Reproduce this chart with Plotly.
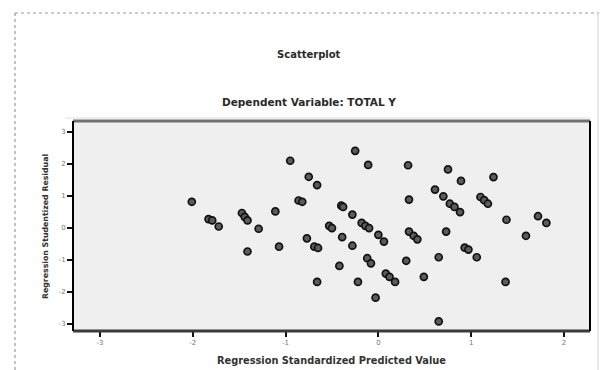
import plotly.graph_objects as go

pred = [-2.01, -1.83, -1.79, -1.72, -1.47, -1.44, -1.41, -1.29, -1.41, -1.11,
        -1.07, -0.95, -0.86, -0.82, -0.75, -0.66, -0.77, -0.69, -0.65, -0.66,
        -0.53, -0.50, -0.40, -0.38, -0.28, -0.39, -0.28, -0.42, -0.22, -0.03,
        -0.18, -0.14, -0.10, 0.00, 0.06, -0.12, -0.08, -0.25, -0.11, 0.08,
        0.12, 0.18, 0.32, 0.33, 0.33, 0.38, 0.42, 0.30, 0.49, 0.65,
        0.65, 0.73, 0.61, 0.70, 0.75, 0.89, 0.77, 0.82, 0.88, 0.93,
        0.97, 1.06, 1.10, 1.14, 1.18, 1.24, 1.38, 1.37, 1.59, 1.72, 1.81]
resid = [0.81, 0.27, 0.23, 0.04, 0.46, 0.34, 0.23, -0.03, -0.74, 0.51,
         -0.59, 2.09, 0.85, 0.81, 1.59, 1.33, -0.33, -0.59, -0.63, -1.69,
         0.06, -0.01, 0.69, 0.65, 0.41, -0.29, -0.56, -1.19, -1.69, -2.18,
         0.15, 0.06, -0.01, -0.22, -0.43, -0.95, -1.11, 2.40, 1.96, -1.43,
         -1.53, -1.69, 1.95, 0.88, -0.12, -0.25, -0.36, -1.03, -1.53, -2.92,
         -0.92, -0.12, 1.19, 0.98, 1.82, 1.46, 0.75, 0.65, 0.49, -0.62,
         -0.68, -0.92, 0.96, 0.86, 0.75, 1.58, 0.25, -1.69, -0.25, 0.36, 0.15]

x_ticks = [-3, -2, -1, 0, 1, 2]
y_ticks = [-3, -2, -1, 0, 1, 2, 3]

fig = go.Figure()
fig.add_trace(go.Scatter(
    x=pred, y=resid, mode="markers",
    marker=dict(size=7, color="#5c5c5c", line=dict(color="#111111", width=1.7)),
    showlegend=False, hoverinfo="skip"))

L, R, T, B = 73, 10, 121, 39
W, H = 600, 370
pw, ph = W - L - R, H - T - B

def px(v):
    return (v - L) / pw

def py(v):
    return (H - B - v) / ph

FONT = "DejaVu Sans, Verdana, sans-serif"

shapes = [
    # outer dotted frame
    dict(type="line", xref="paper", yref="paper", x0=px(15), x1=px(599), y0=py(13), y1=py(13),
         line=dict(color="#9a9a9a", width=1.2, dash="dot")),
    dict(type="line", xref="paper", yref="paper", x0=px(15), x1=px(15), y0=py(13), y1=py(370),
         line=dict(color="#9a9a9a", width=1.2, dash="dot")),
    dict(type="line", xref="paper", yref="paper", x0=px(598), x1=px(598), y0=py(13), y1=py(370),
         line=dict(color="#d0d0d0", width=1)),
    dict(type="line", xref="paper", yref="paper", x0=px(65), x1=1, y0=py(118), y1=py(118),
         line=dict(color="#dddddd", width=1)),
    # plot frame
    dict(type="line", xref="paper", yref="paper", x0=0, x1=1, y0=1, y1=1,
         line=dict(color="#707070", width=3)),
    dict(type="line", xref="paper", yref="paper", x0=0, x1=1, y0=0, y1=0,
         line=dict(color="#3a3a3a", width=3)),
    dict(type="line", xref="paper", yref="paper", x0=0, x1=0, y0=0, y1=1,
         line=dict(color="#000000", width=2)),
    dict(type="line", xref="paper", yref="paper", x0=1, x1=1, y0=0, y1=1,
         line=dict(color="#000000", width=2)),
]

fig.update_layout(
    width=W, height=H,
    margin=dict(l=L, r=R, t=T, b=B),
    paper_bgcolor="white", plot_bgcolor="#efefef",
    font=dict(family=FONT, color="#333"),
    shapes=shapes,
    annotations=[
        dict(text="<b>Scatterplot</b>", xref="paper", yref="paper", x=px(309), y=py(54),
             showarrow=False, font=dict(size=10, color="#2a2a2a"), xanchor="center", yanchor="middle"),
        dict(text="<b>Dependent Variable: TOTAL Y</b>", xref="paper", yref="paper", x=px(309), y=py(102),
             showarrow=False, font=dict(size=10.5, color="#2a2a2a"), xanchor="center", yanchor="middle"),
        dict(text="<b>Regression Standardized Predicted Value</b>", xref="paper", yref="paper",
             x=px(331), y=py(360), showarrow=False, font=dict(size=9.8, color="#333"),
             xanchor="center", yanchor="middle"),
        dict(text="<b>Regression Studentized Residual</b>", xref="paper", yref="paper",
             x=px(45), y=py(227), showarrow=False, textangle=-90, font=dict(size=7.8, color="#333"),
             xanchor="center", yanchor="middle"),
    ],
    xaxis=dict(range=[-3.29, 2.28], tickvals=x_ticks, ticktext=[str(v) for v in x_ticks],
               showgrid=False, zeroline=False, showline=False, fixedrange=True,
               ticks="outside", ticklen=5, tickwidth=2, tickcolor="#111",
               tickfont=dict(size=7, color="#777")),
    yaxis=dict(range=[-3.22, 3.33], tickvals=y_ticks, ticktext=[str(v) for v in y_ticks],
               showgrid=False, zeroline=False, showline=False, fixedrange=True,
               ticks="outside", ticklen=5, tickwidth=2, tickcolor="#111",
               tickfont=dict(size=7, color="#777")),
)

fig.write_html("out.html", config={"displayModeBar": False},
               post_script="document.body.style.margin='0px';document.body.style.padding='0px';")
